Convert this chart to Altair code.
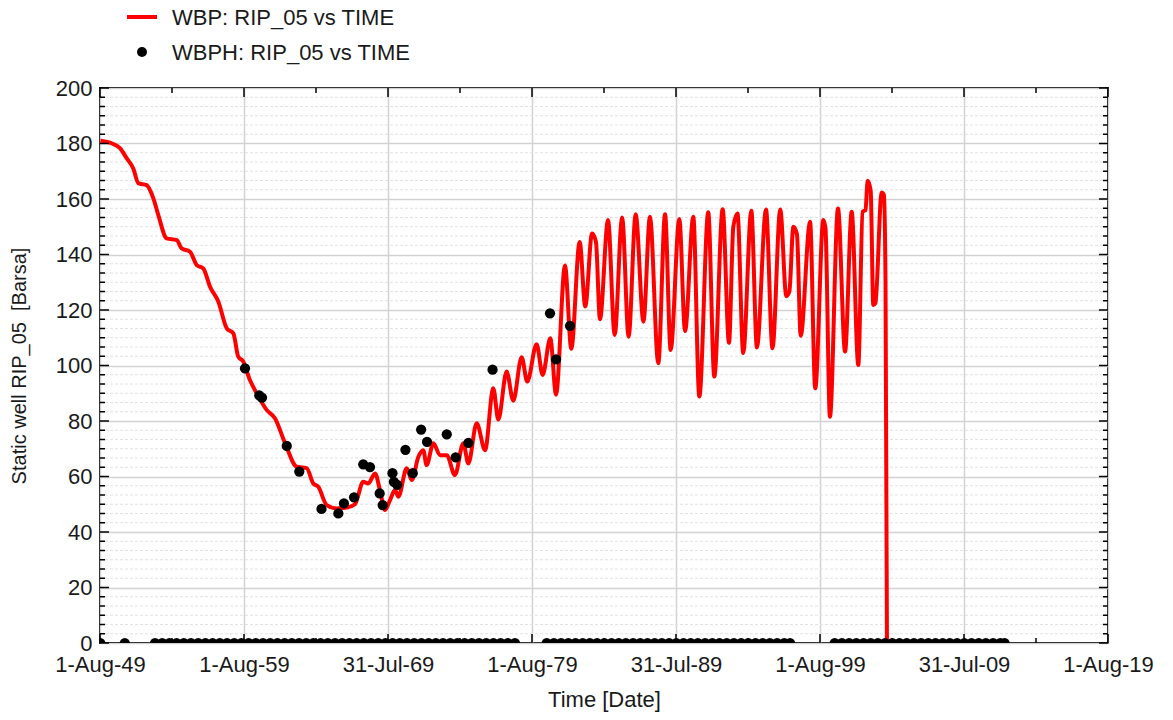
import json
import altair as alt
import pandas as pd

# ---- WBP (simulated static well pressure), decimal year vs bar ----
wbp_year = [
    1949.61, 1950.27, 1950.97, 1951.43, 1951.89, 1952.24, 1952.82, 1953.28, 1953.63, 1954.21,
    1954.91, 1955.25, 1955.83, 1956.30, 1956.75, 1957.22, 1957.80, 1958.38, 1958.84, 1959.18,
    1959.53, 1959.99, 1960.46, 1961.15, 1961.73, 1962.43, 1963.24, 1963.93, 1964.39, 1964.74,
    1965.32, 1966.02, 1966.71, 1967.29, 1967.86, 1968.21, 1968.68, 1969.02, 1969.37, 1969.72,
    1970.07, 1970.30, 1970.88, 1971.23, 1971.69, 1972.03, 1972.26, 1972.73, 1973.19, 1973.66,
    1974.23, 1974.81, 1975.16, 1975.74, 1976.32, 1976.89, 1977.24, 1977.82, 1978.28, 1978.86,
    1979.25, 1979.90, 1980.32, 1980.85, 1981.25, 1981.87, 1982.31, 1982.89, 1983.28, 1983.75,
    1984.02, 1984.30, 1984.86, 1985.32, 1985.84, 1986.29, 1986.78, 1987.32, 1987.77, 1988.35,
    1988.82, 1989.21, 1989.81, 1990.21, 1990.78, 1991.20, 1991.82, 1992.24, 1992.82, 1993.26,
    1993.56, 1993.85, 1994.25, 1994.81, 1995.20, 1995.83, 1996.28, 1996.82, 1997.24, 1997.45,
    1997.73, 1997.98, 1998.24, 1998.89, 1999.25, 1999.81, 1999.96, 2000.27, 2000.83, 2001.32,
    2001.78, 2002.24, 2002.54, 2002.74, 2002.89, 2003.10, 2003.28, 2003.43, 2003.86, 2004.02,
    2004.13, 2004.23,
]
wbp_bar = [
    181.0, 180.3, 178.3, 174.7, 171.0, 165.7, 165.0, 160.3, 154.2, 145.8,
    145.2, 142.2, 141.0, 136.2, 135.0, 128.4, 123.0, 113.4, 111.6, 103.2,
    101.4, 94.8, 90.0, 84.0, 81.0, 72.0, 63.5, 63.0, 57.5, 56.3,
    49.7, 48.5, 48.8, 50.0, 58.1, 57.5, 61.1, 55.1, 47.9, 51.5,
    55.1, 52.7, 63.0, 58.7, 67.1, 69.5, 64.1, 72.0, 67.7, 67.7,
    60.5, 72.0, 64.7, 79.2, 69.5, 91.8, 80.5, 97.8, 87.3, 103.0,
    94.2, 107.7, 96.6, 109.8, 89.5, 136.0, 106.0, 144.5, 121.3, 147.6,
    144.6, 116.7, 152.4, 111.0, 153.3, 110.4, 154.5, 115.8, 153.6, 100.8,
    154.5, 105.6, 152.8, 112.4, 153.6, 88.8, 155.2, 96.0, 156.3, 108.2,
    150.0, 154.8, 104.5, 155.8, 106.5, 156.2, 106.2, 156.2, 125.0, 126.6,
    150.0, 147.3, 110.7, 151.8, 91.8, 152.4, 149.5, 81.5, 156.6, 105.0,
    155.4, 100.2, 155.4, 156.0, 166.6, 163.0, 121.8, 122.5, 162.3, 161.4,
    130.0, 0.0,
]

# ---- WBPH (historical measurements) ----
wbph_year = [
    1959.65, 1960.64, 1960.83, 1962.55, 1963.42, 1964.96, 1966.13, 1966.52, 1967.22, 1967.86,
    1968.33, 1969.00, 1969.21, 1969.89, 1969.99, 1970.22, 1970.79, 1971.30, 1971.88, 1972.29,
    1973.66, 1974.28, 1975.16, 1976.84, 1980.83, 1981.25, 1982.22,
]
wbph_bar = [
    99.0, 89.2, 88.4, 71.0, 61.8, 48.3, 46.7, 50.3, 52.5, 64.4,
    63.4, 53.9, 49.7, 61.2, 58.1, 57.0, 69.6, 61.2, 76.9, 72.5,
    75.2, 66.9, 72.1, 98.5, 118.8, 102.2, 114.3,
]
# report dates where the measurement is recorded as 0
wbph_zero_year = [
    1949.6, 1951.3,
    1953.4, 1953.9, 1954.4, 1954.9, 1955.4, 1955.9, 1956.4, 1956.9, 1957.4, 1957.9,
    1958.4, 1958.9, 1959.4, 1959.9, 1960.4, 1960.9, 1961.4, 1961.9, 1962.4, 1962.9,
    1963.4, 1963.9, 1964.4, 1964.9, 1965.4, 1965.9, 1966.4, 1966.9, 1967.4, 1967.9,
    1968.4, 1968.9, 1969.4, 1969.9, 1970.4, 1970.9, 1971.4, 1971.9, 1972.4, 1972.9,
    1973.4, 1973.9, 1974.4, 1974.9, 1975.4, 1975.9, 1976.4, 1976.9, 1977.4, 1977.9,
    1978.4,
    1980.6, 1981.1, 1981.6, 1982.1, 1982.6, 1983.1, 1983.6, 1984.1, 1984.6, 1985.1,
    1985.6, 1986.1, 1986.6, 1987.1, 1987.6, 1988.1, 1988.6, 1989.1, 1989.6, 1990.1,
    1990.6, 1991.1, 1991.6, 1992.1, 1992.6, 1993.1, 1993.6, 1994.1, 1994.6, 1995.1,
    1995.6, 1996.1, 1996.6, 1997.1, 1997.5,
    2000.6, 2001.1, 2001.6, 2002.1, 2002.6, 2003.1, 2003.6, 2004.1, 2004.6, 2005.1,
    2005.6, 2006.1, 2006.6, 2007.1, 2007.6, 2008.1, 2008.6, 2009.1, 2009.6, 2010.1,
    2010.6, 2011.1, 2011.6, 2012.1, 2012.4,
]

# ---- axis ticks ----
x_tick_years = [1949.58, 1959.58, 1969.58, 1979.58, 1989.58, 1999.58, 2009.58, 2019.58]
x_tick_labels = ["1-Aug-49", "1-Aug-59", "31-Jul-69", "1-Aug-79",
                 "31-Jul-89", "1-Aug-99", "31-Jul-09", "1-Aug-19"]
x_minor_years = [1954.58, 1964.58, 1974.58, 1984.58, 1994.58, 2004.58, 2014.58]
y_major = [0, 20, 40, 60, 80, 100, 120, 140, 160, 180, 200]
y_minor = [round(i * 20 / 6, 4) for i in range(1, 60) if i % 6]

W, H = 1008, 555
FONT = "Liberation Sans"
TXT = "#1a1a1a"

x_scale = alt.Scale(domain=[1949.58, 2019.58], nice=False, zero=False)
y_scale = alt.Scale(domain=[0, 200], nice=False, zero=False)

label_expr = json.dumps(x_tick_labels) + "[round((datum.value - 1949.58) / 10)]"

x_axis = alt.Axis(
    values=x_tick_years, labelExpr=label_expr, title="Time [Date]",
    grid=True, gridColor="#d2d2d2", gridWidth=1.5, ticks=False, domain=False,
    labelPadding=11, titlePadding=14, labelFlush=False, labelOverlap=False,
)
y_axis = alt.Axis(
    values=y_major, title="Static well RIP_05\u00a0\u00a0[Barsa]", titleFontSize=20,
    grid=True, gridColor="#d2d2d2", gridWidth=1.5, ticks=False, domain=False,
    labelPadding=8, titlePadding=26,
)

line_df = pd.DataFrame({"year": wbp_year, "bar": wbp_bar})
obs_df = pd.DataFrame({
    "year": wbph_year + wbph_zero_year,
    "bar": wbph_bar + [0.0] * len(wbph_zero_year),
})

# every layer carries the same axis definition so the shared axes merge cleanly
def X(field):
    return alt.X(field, scale=x_scale, axis=x_axis)


def Y(field):
    return alt.Y(field, scale=y_scale, axis=y_axis)


minor_grid = alt.Chart(pd.DataFrame({"v": y_minor})).mark_rule(
    color="#e2e2e2", strokeDash=[3, 2], strokeWidth=1
).encode(y=Y("v:Q"))

wbp_line = alt.Chart(line_df).mark_line(
    color="#ff0000", strokeWidth=4, strokeJoin="round", interpolate="monotone", clip=True
).encode(x=X("year:Q"), y=Y("bar:Q"), order="year:Q")

wbph_pts = alt.Chart(obs_df).mark_circle(
    color="black", size=105, opacity=1, clip=True
).encode(x=X("year:Q"), y=Y("bar:Q"))

# inward-pointing tick marks on all four sides
ymaj = alt.Chart(pd.DataFrame({"v": y_major}))
ymin = alt.Chart(pd.DataFrame({"v": y_minor}))
xmaj = alt.Chart(pd.DataFrame({"t": x_tick_years}))
xmin = alt.Chart(pd.DataFrame({"t": x_minor_years}))
tk = dict(color="black", strokeWidth=1.5)
ticks = [
    ymaj.mark_rule(**tk).encode(y=Y("v:Q"), x=alt.value(0), x2=alt.value(9)),
    ymaj.mark_rule(**tk).encode(y=Y("v:Q"), x=alt.value(W), x2=alt.value(W - 9)),
    ymin.mark_rule(**tk).encode(y=Y("v:Q"), x=alt.value(0), x2=alt.value(5)),
    ymin.mark_rule(**tk).encode(y=Y("v:Q"), x=alt.value(W), x2=alt.value(W - 5)),
    xmaj.mark_rule(**tk).encode(x=X("t:Q"), y=alt.value(H), y2=alt.value(H - 9)),
    xmaj.mark_rule(**tk).encode(x=X("t:Q"), y=alt.value(0), y2=alt.value(9)),
    xmin.mark_rule(**tk).encode(x=X("t:Q"), y=alt.value(H), y2=alt.value(H - 5)),
    xmin.mark_rule(**tk).encode(x=X("t:Q"), y=alt.value(0), y2=alt.value(5)),
]

# legend above the plot
one = alt.Chart(pd.DataFrame({"k": [0]}))
legend = [
    one.mark_rule(color="#ff0000", strokeWidth=4).encode(
        x=alt.value(27), x2=alt.value(57), y=alt.value(-71)),
    one.mark_text(align="left", baseline="middle", font=FONT, fontSize=22, color=TXT).encode(
        x=alt.value(72), y=alt.value(-70), text=alt.value("WBP: RIP_05 vs TIME")),
    one.mark_circle(color="black", size=100, opacity=1).encode(
        x=alt.value(42), y=alt.value(-36)),
    one.mark_text(align="left", baseline="middle", font=FONT, fontSize=22, color=TXT).encode(
        x=alt.value(72), y=alt.value(-35), text=alt.value("WBPH: RIP_05 vs TIME")),
]

chart = alt.layer(minor_grid, wbp_line, wbph_pts, *ticks, *legend).properties(
    width=W, height=H,
    autosize=alt.AutoSizeParams(type="none"),
    padding={"left": 100, "top": 88, "right": 65, "bottom": 77},
    background="white",
).configure_view(
    stroke="black", strokeWidth=2
).configure_axis(
    labelFont=FONT, labelFontSize=22, labelColor=TXT,
    titleFont=FONT, titleFontSize=22, titleColor=TXT, titleFontWeight="normal",
)

chart.save("out.html", embed_options={"renderer": "svg", "actions": False})
